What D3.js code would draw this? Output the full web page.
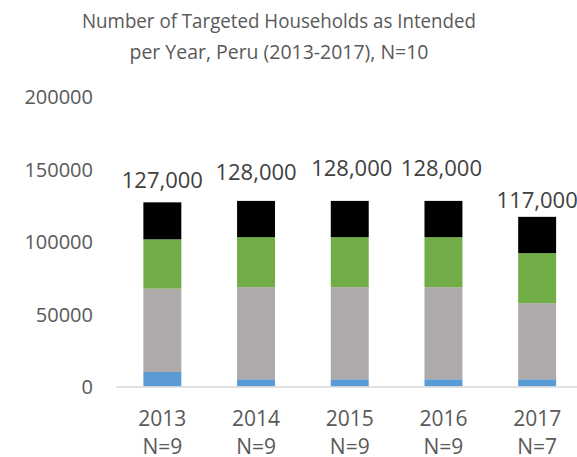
<!DOCTYPE html>
<html><head><meta charset="utf-8">
<script src="https://cdn.jsdelivr.net/npm/d3@7"></script>
<style>body{margin:0;background:#fff}svg{display:block}</style>
</head><body><svg id="c" width="577" height="457"></svg>
<script>
const years = ["2013","2014","2015","2016","2017"];
const nLabels = ["N=9","N=9","N=9","N=9","N=7"];
const seriesBlue = [10000,5000,5000,5000,5000];
const seriesGray = [57500,63500,63500,63500,52500];
const seriesGreen = [34000,34500,34500,34500,34500];
const seriesBlack = [25500,25000,25000,25000,25000];
const totals = [127000,128000,128000,128000,117000];
const yTicks = [0,50000,100000,150000,200000];
const titleLines = ["Number of Targeted Households as Intended","per Year, Peru (2013-2017), N=10"];

// layout-only nudges for the total labels (as placed in the original)
const labelGap = [14, 20.5, 24.5, 24.5, 8.5];
const labelDx = [0, 0, 2, -2, 0];

const keys = ["blue","gray","green","black"];
const colors = {blue:"#5B9BD5", gray:"#AEAAAA", green:"#70AD47", black:"#000000"};
const rows = years.map((y,i)=>({year:y, blue:seriesBlue[i], gray:seriesGray[i], green:seriesGreen[i], black:seriesBlack[i]}));

const svg = d3.select("#c");
const font = "'Open Sans', sans-serif";

const x = d3.scaleBand().domain(years).range([115.5, 584]).paddingInner(0.595).paddingOuter(0.2975);
const y = d3.scaleLinear().domain([0,200000]).range([386.5, 96.5]);

// title
svg.append("g").selectAll("text").data(titleLines).join("text")
  .attr("x", 279).attr("y", (d,i)=> i===0 ? 28 : 59)
  .attr("text-anchor","middle")
  .attr("font-family", font).attr("font-size", 20).attr("fill","#595959")
  .attr("textLength", (d,i)=> i===0 ? 394 : 299)
  .attr("lengthAdjust","spacingAndGlyphs")
  .text(d=>d);

// y axis
const ya = svg.append("g").attr("transform","translate(115,0)")
  .call(d3.axisLeft(y).tickValues(yTicks).tickFormat(d3.format("d")).tickSize(0).tickPadding(22));
ya.select(".domain").remove();
ya.selectAll("text").attr("font-family", font).attr("font-size", 20).attr("fill","#595959").attr("dy","0.36em");

// bars
const stacked = d3.stack().keys(keys)(rows);
svg.append("g").selectAll("g").data(stacked).join("g")
  .attr("fill", d=>colors[d.key])
  .selectAll("rect").data(d=>d).join("rect")
  .attr("x", d=>x(d.data.year)).attr("width", x.bandwidth())
  .attr("y", d=>y(d[1])).attr("height", d=>y(d[0])-y(d[1]));

// x axis
const xa = svg.append("g").attr("transform",`translate(0,${y(0)})`)
  .call(d3.axisBottom(x).tickSize(0).tickFormat(""));
xa.select(".domain").attr("stroke","#D9D9D9").attr("stroke-width",1.5);
const xl = svg.append("g").selectAll("text").data(years).join("text")
  .attr("x", d=>x(d)+x.bandwidth()/2).attr("y", 425.5)
  .attr("text-anchor","middle").attr("font-family", font).attr("font-size", 21).attr("fill","#595959");
xl.append("tspan").text(d=>d);
xl.append("tspan").attr("x", d=>x(d)+x.bandwidth()/2).attr("dy", 28).text((d,i)=>nLabels[i]);

// total labels
svg.append("g").selectAll("text").data(totals).join("text")
  .attr("x", (d,i)=>x(years[i])+x.bandwidth()/2+labelDx[i])
  .attr("y", (d,i)=>y(d)-labelGap[i])
  .attr("text-anchor","middle").attr("font-family", font).attr("font-size", 22).attr("fill","#404040")
  .text(d=>d3.format(",")(d));
</script></body></html>
